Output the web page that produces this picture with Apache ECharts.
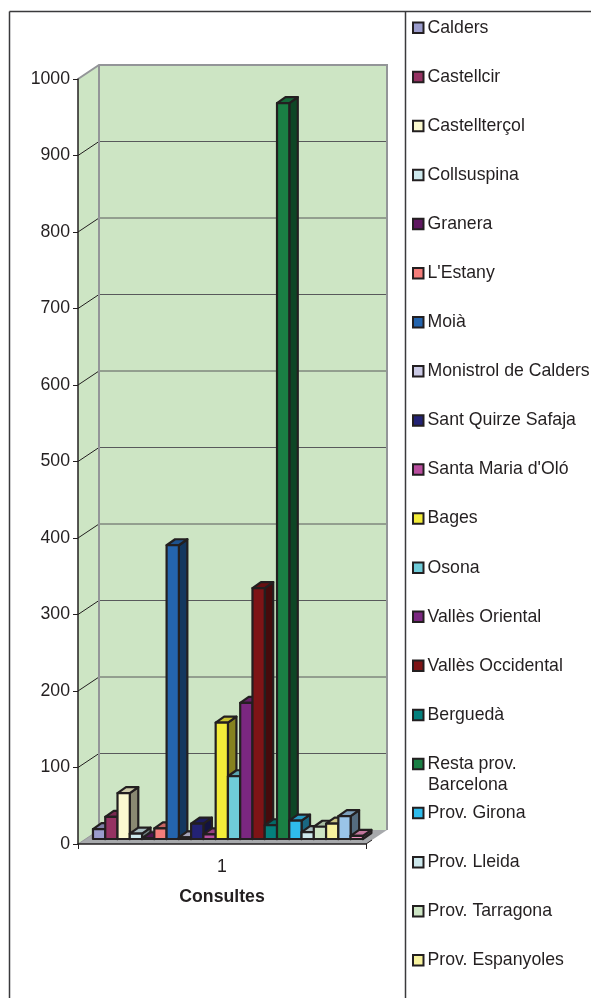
<!DOCTYPE html>
<html>
<head>
<meta charset="utf-8">
<style>html,body{margin:0;padding:0;background:#fff}#c{width:591px;height:998px}</style>
<script src="https://cdn.jsdelivr.net/npm/echarts@6/dist/echarts.min.js"></script>
</head>
<body>
<div id="c"></div>
<script>
var categories = ['1'];
var yTicks = [0, 100, 200, 300, 400, 500, 600, 700, 800, 900, 1000];
var seriesNames = ['Calders','Castellcir','Castellterçol','Collsuspina','Granera',"L'Estany",'Moià','Monistrol de Calders','Sant Quirze Safaja',"Santa Maria d'Oló",'Bages','Osona','Vallès Oriental','Vallès Occidental','Berguedà','Resta prov. Barcelona','Prov. Girona','Prov. Lleida','Prov. Tarragona','Prov. Espanyoles','Sèrie 21','Sèrie 22'];
var seriesValues = [13,29,60,7,1,14,384,2,20,6,152,82,178,328,18,962,24,9,16,20,30,4];
var seriesColors = ['#9b9ccc','#953262','#fbf9cf','#cde8ec','#5f1760','#f47d7a','#2464ad','#cac9e4','#232274','#b94e9f','#f3ec39','#6fcbd8','#7b2780','#7e1416','#04807d','#1a7f44','#2fbcec','#cde8ec','#cde5c4','#f7f29e','#9ac4e8','#ed90bf'];
var legendCount = 20;

var FONT = '"Liberation Sans", Arial, sans-serif';
var INK = '#231f20';
var DX = 21, DY = 14;

var chart = echarts.init(document.getElementById('c'), null, {renderer: 'canvas'});

function shade(hex, k) {
  var n = parseInt(hex.slice(1), 16);
  return 'rgb(' + Math.round((n >> 16 & 255) * k) + ',' + Math.round((n >> 8 & 255) * k) + ',' + Math.round((n & 255) * k) + ')';
}

function wallsRender(params, api) {
  var o = api.coord([0, 0]);
  var bw = api.size([1, 0])[0];
  var left = o[0] - bw / 2, right = o[0] + bw / 2;
  var y0 = o[1], y1 = api.coord([0, yTicks[yTicks.length - 1]])[1];
  var kids = [];
  var wall = '#cde5c4', edge = '#939598', gridc = '#58595b';
  kids.push({type: 'polygon', shape: {points: [[left, y0], [left + DX, y0 - DY], [left + DX, y1 - DY], [left, y1]]}, style: {fill: wall}});
  kids.push({type: 'rect', shape: {x: left + DX, y: y1 - DY, width: right - left, height: y0 - y1}, style: {fill: wall}});
  kids.push({type: 'polygon', shape: {points: [[left, y0], [right, y0], [right + DX, y0 - DY], [left + DX, y0 - DY]]}, style: {fill: '#a7a9ac'}});
  yTicks.forEach(function (t) {
    var y = api.coord([0, t])[1];
    if (t > 0 && t < 1000) {
      kids.push({type: 'line', shape: {x1: left + DX, y1: y - DY, x2: right + DX, y2: y - DY}, style: {stroke: gridc, lineWidth: 1}});
    }
    if (t < 1000) {
      kids.push({type: 'line', shape: {x1: left, y1: y, x2: left + DX, y2: y - DY}, style: {stroke: t === 0 ? edge : INK, lineWidth: 1}});
    }
  });
  kids.push({type: 'polyline', shape: {points: [[left, y1], [left + DX, y1 - DY], [right + DX, y1 - DY], [right + DX, y0 - DY]]}, style: {fill: 'none', stroke: edge, lineWidth: 2}});
  kids.push({type: 'line', shape: {x1: left + DX, y1: y1 - DY, x2: left + DX, y2: y0 - DY}, style: {stroke: edge, lineWidth: 2}});
  kids.push({type: 'line', shape: {x1: right, y1: y0, x2: right + 6, y2: y0 - 4}, style: {stroke: INK, lineWidth: 1}});
  return {type: 'group', children: kids};
}

function barRender(idx) {
  return function (params, api) {
    var c = api.coord([0, api.value(1)]);
    var o = api.coord([0, 0]);
    var bw = api.size([1, 0])[0];
    var w = bw * 0.426 / 10;
    var x = o[0] - bw * 0.448 + idx * w;
    var lift = 5;
    var yb = o[1] - lift, yt = c[1] - lift;
    var dx = 8.5, dy = 6;
    var col = seriesColors[idx];
    var st = {stroke: INK, lineWidth: 2.2, lineJoin: 'round'};
    return {type: 'group', children: [
      {type: 'polygon', shape: {points: [[x + w, yt], [x + w + dx, yt - dy], [x + w + dx, yb - dy], [x + w, yb]]}, style: Object.assign({fill: shade(col, 0.55)}, st)},
      {type: 'polygon', shape: {points: [[x, yt], [x + dx, yt - dy], [x + w + dx, yt - dy], [x + w, yt]]}, style: Object.assign({fill: shade(col, 0.82)}, st)},
      {type: 'rect', shape: {x: x, y: yt, width: w, height: yb - yt}, style: Object.assign({fill: col}, st)}
    ]};
  };
}

var series = [{
  type: 'custom', name: '__walls', z: 1, silent: true,
  data: [[0, 0]], encode: {x: 0, y: 1}, renderItem: wallsRender
}];
seriesNames.forEach(function (n, i) {
  series.push({
    type: 'custom', name: n, z: 4, silent: true,
    itemStyle: {color: seriesColors[i]},
    data: [[0, seriesValues[i]]], encode: {x: 0, y: 1},
    renderItem: barRender(i)
  });
});

chart.setOption({
  animation: false,
  backgroundColor: '#fff',
  grid: {left: 78, right: 225, top: 79, bottom: 154, containLabel: false},
  xAxis: {
    type: 'category', data: categories, z: 3,
    axisLine: {show: true, lineStyle: {color: INK, width: 1.5}},
    axisTick: {show: true, length: 5, alignWithLabel: false, lineStyle: {color: INK, width: 1}},
    axisLabel: {show: true, color: INK, fontFamily: FONT, fontSize: 17.7, margin: 14},
    name: 'Consultes', nameLocation: 'middle', nameGap: 44,
    nameTextStyle: {color: INK, fontFamily: FONT, fontSize: 17.7, fontWeight: 'bold'}
  },
  yAxis: {
    type: 'value', min: 0, max: 1000, interval: 100, z: 3,
    splitLine: {show: false},
    axisLine: {show: true, lineStyle: {color: INK, width: 1.5}},
    axisTick: {show: true, length: 5, lineStyle: {color: INK, width: 1}},
    axisLabel: {color: INK, fontFamily: FONT, fontSize: 17.7, margin: 8, formatter: function (v) { return String(v); }}
  },
  legend: {
    show: true, orient: 'vertical', left: 412, top: 18.8, padding: 0,
    data: seriesNames.slice(0, legendCount),
    icon: 'rect', itemWidth: 10.5, itemHeight: 10.5, itemGap: 31.08,
    itemStyle: {borderColor: INK, borderWidth: 2},
    selectedMode: false,
    formatter: function (n) { return n === 'Resta prov. Barcelona' ? 'Resta prov.' : n; },
    textStyle: {color: INK, fontFamily: FONT, fontSize: 17.7, padding: [0, 0, 0, -1]}
  },
  graphic: [
    {type: 'line', shape: {x1: 9.5, y1: 11.5, x2: 591, y2: 11.5}, style: {stroke: '#3a3a3c', lineWidth: 1.5}, z: 10},
    {type: 'line', shape: {x1: 9.5, y1: 11.5, x2: 9.5, y2: 998}, style: {stroke: '#3a3a3c', lineWidth: 1.5}, z: 10},
    {type: 'line', shape: {x1: 405.5, y1: 11.5, x2: 405.5, y2: 998}, style: {stroke: '#3a3a3c', lineWidth: 1.5}, z: 10},
    {type: 'text', left: 428, top: 776, style: {text: 'Barcelona', fill: INK, font: '17.7px ' + FONT}, z: 10}
  ],
  series: series
});
</script>
</body>
</html>
